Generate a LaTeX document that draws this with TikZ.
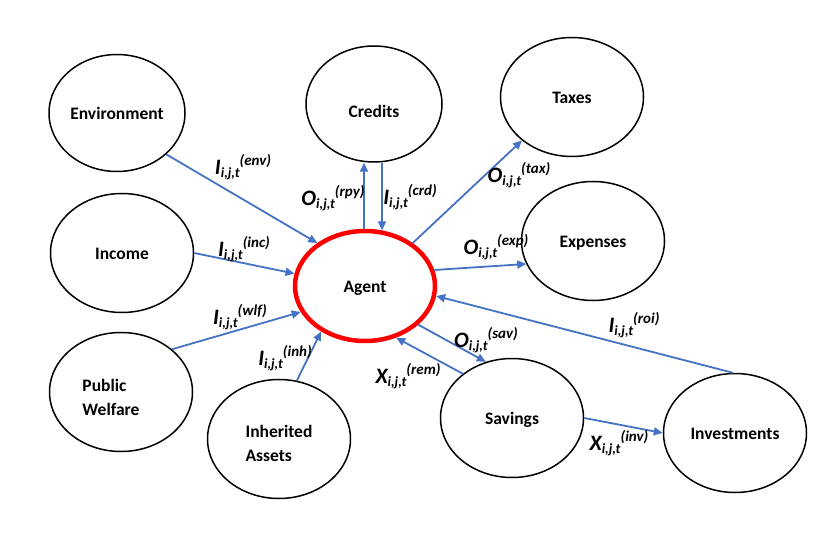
\documentclass[tikz,border=0pt]{standalone}
\usepackage{fontspec}
\setmainfont{Carlito}
\usepackage{xcolor}
\usepackage{tikz}
\usetikzlibrary{shapes,arrows.meta}

\definecolor{flowblue}{RGB}{68,114,196}

% flow label: main letter, subscript, superscript
\newcommand{\flow}[3]{{\fontsize{22}{22}\selectfont #1}{\fontsize{14}{14}\selectfont\raisebox{-3pt}{#2}}{\fontsize{15}{15}\selectfont\raisebox{9pt}{(#3)}}}

\begin{document}
\begin{tikzpicture}[x=1pt, y=-1pt,
		box/.style={ellipse, draw, line width=1.5pt, minimum width=143pt, minimum height=119pt, inner sep=0pt, align=center, font=\fontsize{17.5}{24}\selectfont\bfseries, execute at begin node={\rule[-4pt]{0pt}{21pt}}},
		agentbox/.style={box, draw=red, line width=4.5pt, minimum width=140pt, minimum height=110pt},
		arrow/.style={-{Triangle[length=9pt,width=8pt]}, draw=flowblue, line width=1.8pt},
		lbl/.style={inner sep=0pt, font=\bfseries\itshape}]

		\useasboundingbox (0,0) rectangle (830,537);

		\node [box, minimum width=136pt, minimum height=117pt] (env) at (117,113) {Environment};
		\node [box, minimum width=136pt, minimum height=116pt] (credits) at (374,104) {\rule{0pt}{31pt}Credits};
		\node [box] (taxes) at (572,97) {Taxes};
		\node [box] (income) at (122,253) {Income};
		\node [agentbox] (agent) at (365,286) {Agent};
		\node [box] (expenses) at (593,241) {Expenses};
		\node [box, align=left] (welfare) at (121,392) {\rule{0pt}{26pt}Public\\Welfare\hspace*{20pt}};
		\node [box, align=left] (inherited) at (279,439) {\rule{0pt}{24pt}Inherited\\Assets};
		\node [box] (savings) at (512,418) {Savings};
		\node [box] (invest) at (735,433) {Investments};

		\draw [arrow] (env.320) -- (agent.138);
		\draw [arrow] (agent.91) -- (agent.91 |- credits.south);
		\draw [arrow] (agent.73 |- credits.south) -- (agent.73);
		\draw [arrow] (agent.42) -- (taxes.221);
		\draw [arrow] (income.east) -- (agent.170);
		\draw [arrow] (agent.13) -- (expenses.199);
		\draw [arrow] (welfare.40) -- (agent.202);
		\draw [arrow] (inherited.73) -- (agent.226);
		\draw [arrow] (agent.324) -- (savings.115);
		\draw [arrow] (savings.138) -- (agent.301);
		\draw [arrow] (invest.92) -- (agent.352);
		\draw [arrow] (savings.east) -- (invest.west);

		\node [lbl] (lenv) at (243,167) {\flow{I}{i,j,t}{env}};
		\node [lbl] (lrpy) at (333,198) {\flow{O}{i,j,t}{rpy}};
		\node [lbl] (lcrd) at (410,197) {\flow{I}{i,j,t}{crd}};
		\node [lbl] (linc) at (244,249) {\flow{I}{i,j,t}{inc}};
		\node [lbl] (ltax) at (519,175) {\flow{O}{i,j,t}{tax}};
		\node [lbl] (lexp) at (496,247) {\flow{O}{i,j,t}{exp}};
		\node [lbl] (lwlf) at (240,317) {\flow{I}{i,j,t}{wlf}};
		\node [lbl] (linh) at (285,358) {\flow{I}{i,j,t}{inh}};
		\node [lbl] (lsav) at (486,340) {\flow{O}{i,j,t}{sav}};
		\node [lbl] (lrem) at (408,376) {\flow{X}{i,j,t}{rem}};
		\node [lbl] (lroi) at (634,325) {\flow{I}{i,j,t}{roi}};
		\node [lbl] (linv) at (619,443) {\flow{X}{i,j,t}{inv}};

	\end{tikzpicture}
\end{document}
